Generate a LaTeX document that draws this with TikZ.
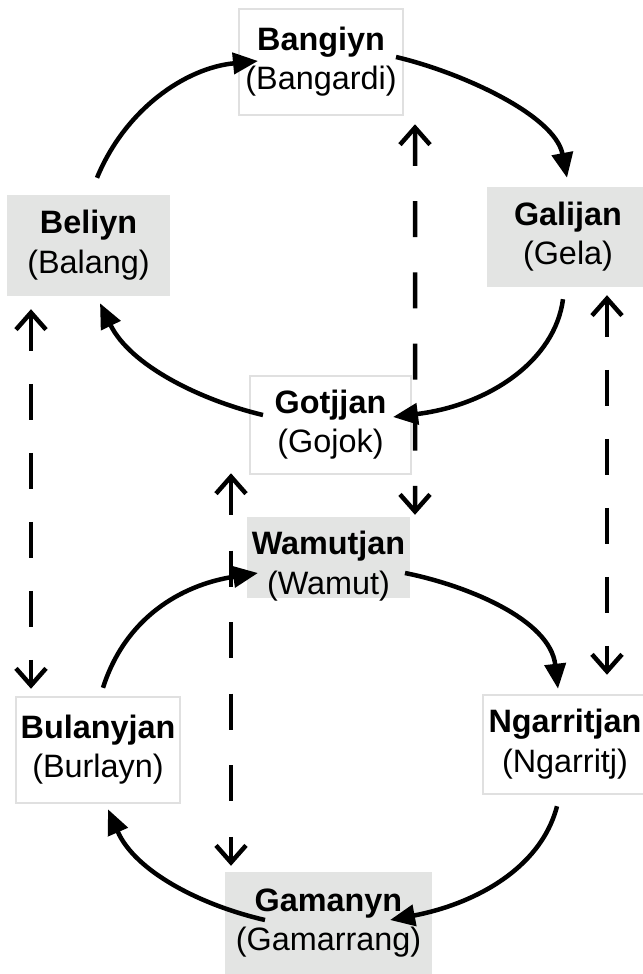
\documentclass[tikz,border=0pt]{standalone}
\usepackage{fontspec}
\setmainfont{Liberation Sans}
\usetikzlibrary{arrows.meta}
\definecolor{boxgray}{HTML}{E3E4E3}
\definecolor{edgegray}{HTML}{E0E0E0}
% two-line label: bold clan name over the name in brackets
\newcommand\clanlbl[2]{\begin{tabular}{@{}c@{}}\textbf{#1}\\#2\end{tabular}}
\begin{document}
\begin{tikzpicture}[x=1bp,y=-1bp,
  every node/.style={inner sep=0pt, font=\fontsize{32.5}{40}\selectfont, text=black},
  shaded/.style={fill=boxgray},
  open/.style={fill=white, draw=edgegray, line width=2.5bp},
  flow/.style={line width=4.5bp, -{Triangle[length=25bp,width=21bp]}},
  twoway/.style={line width=4.5bp,
    {Straight Barb[length=17bp,width=30bp]}-{Straight Barb[length=17bp,width=30bp]},
    dash pattern=on 36bp off #1},
]
\useasboundingbox (0,0) rectangle (643,974);
\clip (0,0) rectangle (643,974);

% clan boxes
\node[open, minimum width=164bp, minimum height=106bp] (Bangiyn) at (321,62) {\clanlbl{Bangiyn}{(Bangardi)}};
\node[shaded, minimum width=163bp, minimum height=101bp] (Beliyn) at (88.5,245.5) {\clanlbl{Beliyn}{(Balang)}};
\node[shaded, minimum width=162bp, minimum height=100bp] (Galijan) at (568,237) {\clanlbl{Galijan}{(Gela)}};
\node[open, minimum width=161bp, minimum height=98bp] (Gotjjan) at (330.5,425) {\clanlbl{Gotjjan}{(Gojok)}};
\node[shaded, minimum width=163bp, minimum height=81bp] (Wamutjan) at (328.5,557.5)
  {\raisebox{-9bp}[\height][\depth]{\clanlbl{Wamutjan}{(Wamut)}}};
\node[open, minimum width=164bp, minimum height=106bp] (Bulanyjan) at (98,750) {\clanlbl{Bulanyjan}{(Burlayn)}};
\node[open, minimum width=164bp, minimum height=99bp] (Ngarritjan) at (565,744.5) {\clanlbl{Ngarritjan}{(Ngarritj)}};
\node[shaded, minimum width=207bp, minimum height=102bp] (Gamanyn) at (328.5,923) {\clanlbl{Gamanyn}{(Gamarrang)}};

% upper cycle
\draw[flow] ([shift={(8.5,-17)}]Beliyn.north) .. controls +(28,-68) and +(-73,7) .. ([shift={(-63,-1)}]Bangiyn.center);
\draw[flow] ([shift={(75,-5)}]Bangiyn.center) .. controls +(64,15) and +(-12,-63) .. ([shift={(-1,-9)}]Galijan.north);
\draw[flow] ([shift={(-5,12)}]Galijan.south) .. controls +(-8,61) and +(97,-12) .. ([shift={(62.5,-8)}]Gotjjan.center);
\draw[flow] ([shift={(-67.5,-10)}]Gotjjan.center) .. controls +(-63,-15) and +(30,62) .. ([shift={(11.5,7)}]Beliyn.south);

% lower cycle
\draw[flow] ([shift={(5,-8)}]Bulanyjan.north) .. controls +(22,-69) and +(-78,12) .. ([shift={(-70.5,15.5)}]Wamutjan.center);
\draw[flow] ([shift={(76.5,15.5)}]Wamutjan.center) .. controls +(60,12) and +(-8,-70) .. ([shift={(-7,-5)}]Ngarritjan.north);
\draw[flow] ([shift={(-8,11)}]Ngarritjan.south) .. controls +(-17,65) and +(80,-15) .. ([shift={(61.5,-3)}]Gamanyn.center);
\draw[flow] ([shift={(-63.5,-3)}]Gamanyn.center) .. controls +(-65,-15) and +(27,62) .. ([shift={(10,5)}]Bulanyjan.south);

% links between the two cycles
\draw[twoway=33bp] ([shift={(-57.5,13)}]Beliyn.south) -- ([shift={(-67,-7)}]Bulanyjan.north);
\draw[twoway=33bp] ([shift={(39,8)}]Galijan.south) -- ([shift={(42,-19)}]Ngarritjan.north);
\draw[twoway=35.2bp] ([shift={(94,8)}]Bangiyn.south) -- ([shift={(86.5,-2)}]Wamutjan.north);
\draw[twoway=35.6bp] ([shift={(-99.5,-2)}]Gotjjan.south) -- ([shift={(-97.5,-6)}]Gamanyn.north);
\end{tikzpicture}
\end{document}
